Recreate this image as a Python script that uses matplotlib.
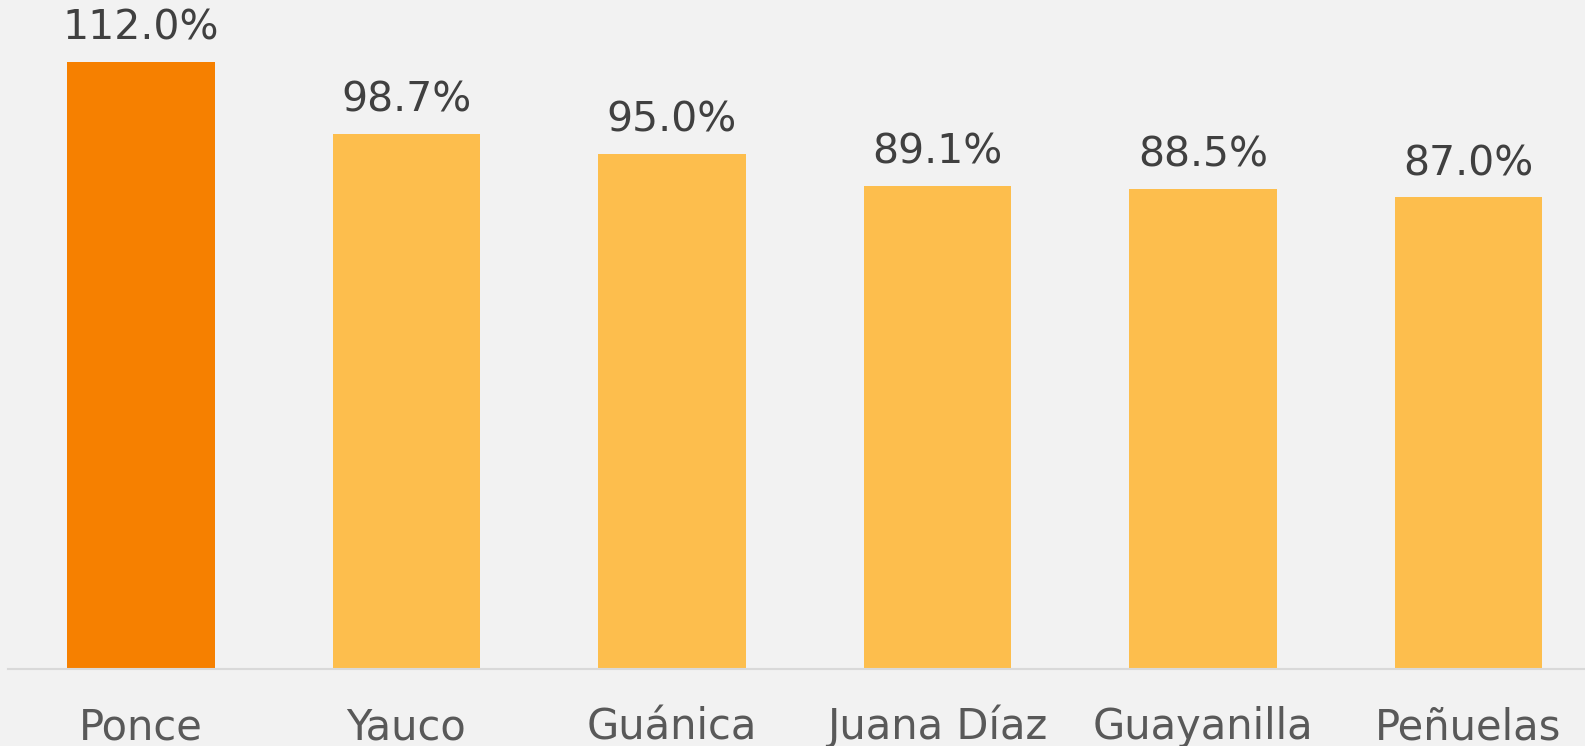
import matplotlib
matplotlib.use("Agg")
import matplotlib.pyplot as plt

categories = ["Ponce", "Yauco", "Guánica", "Juana Díaz", "Guayanilla", "Peñuelas"]
values = [112.0, 98.7, 95.0, 89.1, 88.5, 87.0]
labels = ["112.0%", "98.7%", "95.0%", "89.1%", "88.5%", "87.0%"]
colors = ["#F68000", "#FDBE4D", "#FDBE4D", "#FDBE4D", "#FDBE4D", "#FDBE4D"]

plt.rcParams['font.family'] = ['DejaVu Sans']

W, H = 1585, 746
fig = plt.figure(figsize=(W / 100, H / 100), dpi=100)
fig.patch.set_facecolor("#F2F2F2")
ax = fig.add_axes([8 / W, 77 / H, (1585 - 8) / W, 669 / H])
ax.set_facecolor("#F2F2F2")

x = list(range(len(categories)))
ax.bar(x, values, width=0.557, color=colors, zorder=2)

ax.set_xlim(-0.5009, 5.439)
ax.set_ylim(0, 123.4)
for s in ["top", "right", "left"]:
    ax.spines[s].set_visible(False)
ax.spines["bottom"].set_color("#D9D9D9")
ax.spines["bottom"].set_linewidth(1.5)
ax.set_yticks([])
ax.set_xticks([])

for xi, v, lab in zip(x, values, labels):
    ax.annotate(lab, xy=(xi, v), xytext=(0, 16), textcoords="offset points",
                ha="center", va="baseline", fontsize=29.5, color="#404040")

for xi, c in zip(x, categories):
    ax.annotate(c, xy=(xi, 0), xycoords=("data", "axes fraction"),
                xytext=(0, -50.5), textcoords="offset points",
                ha="center", va="baseline", fontsize=30, color="#595959",
                annotation_clip=False)

fig.savefig("out.png", dpi=100, facecolor=fig.get_facecolor())
